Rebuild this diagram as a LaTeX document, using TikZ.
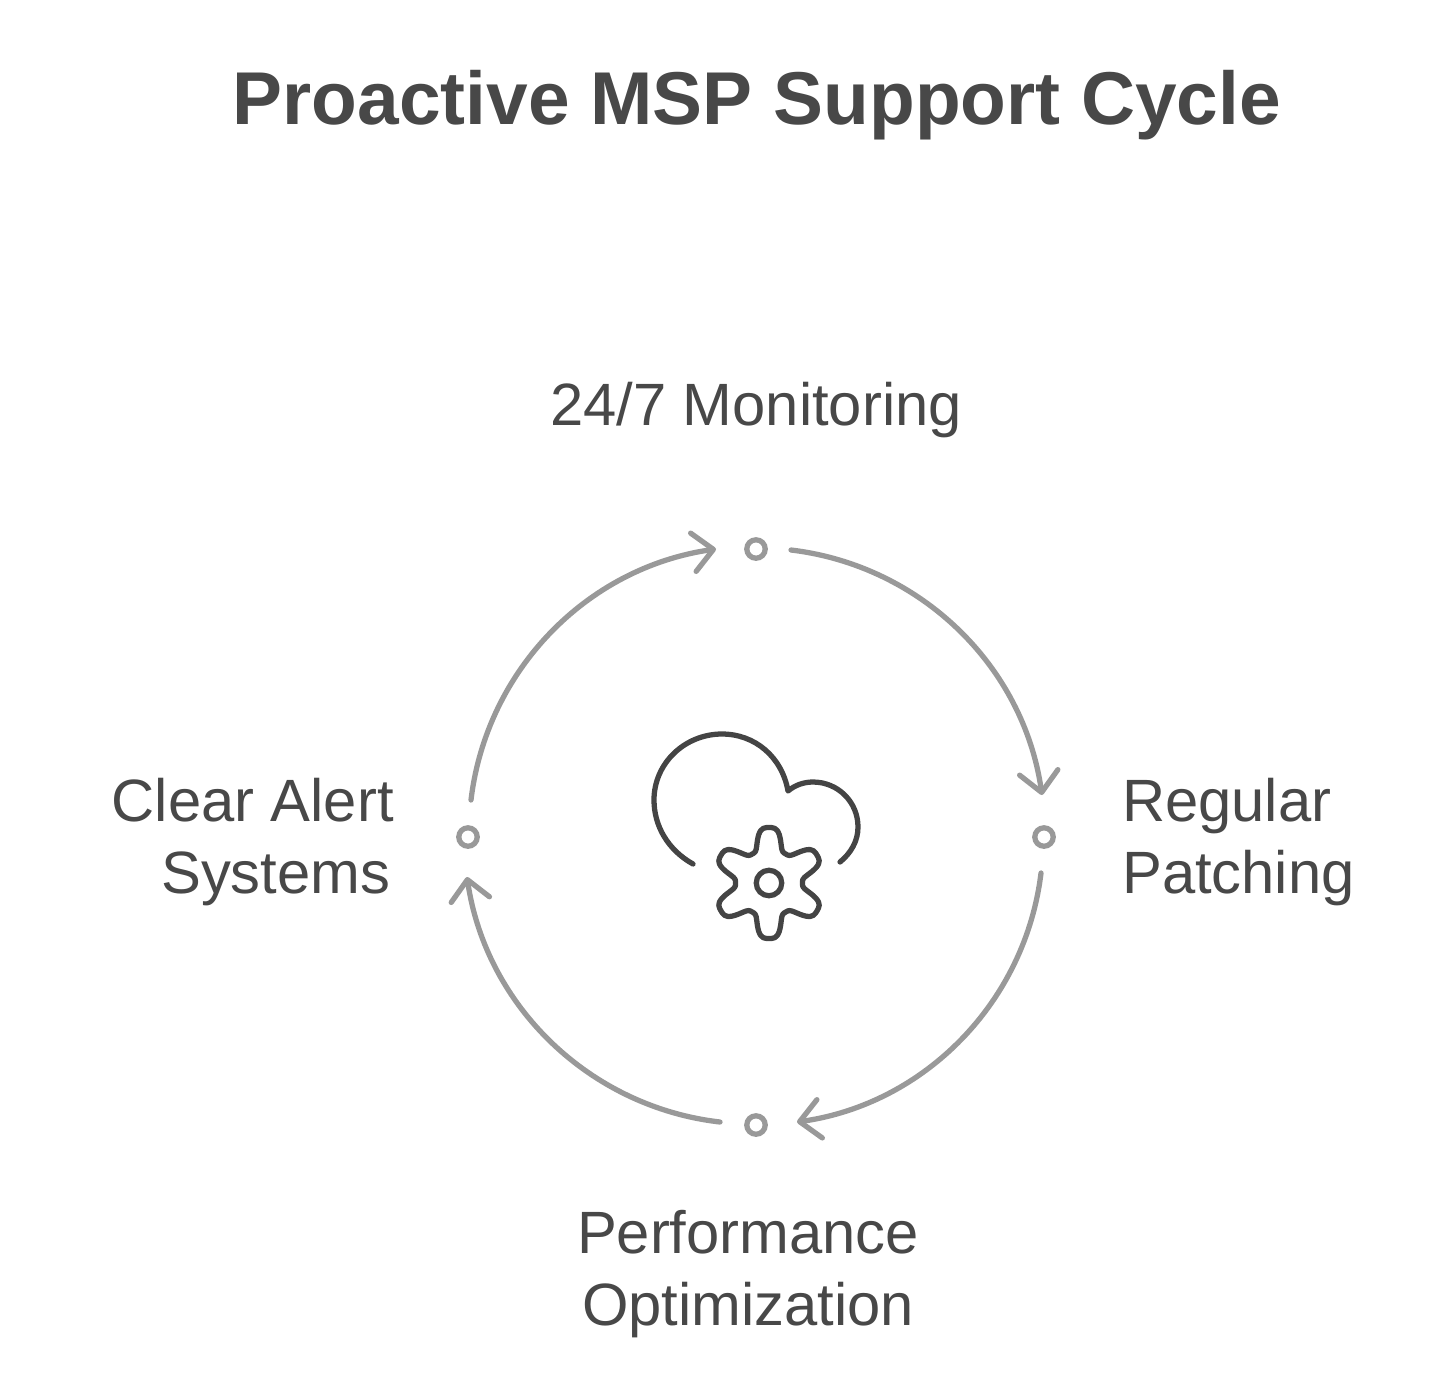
\documentclass[tikz,border=0pt]{standalone}
\usepackage{fontspec}
\setmainfont{Liberation Sans}
\usetikzlibrary{arrows.meta}
\definecolor{textgray}{HTML}{484848}
\definecolor{icongray}{HTML}{444444}
\definecolor{cyclegray}{HTML}{999999}
\tikzset{
    dot/.style={circle, draw=cyclegray, fill=white, line width=3pt, minimum size=10.5pt, inner sep=0pt},
    cycle/.style={draw=cyclegray, line width=3pt, line cap=round, -{Straight Barb[round, length=11.5pt, width=22pt]}},
    icon/.style={draw=icongray, line width=3pt, line cap=round, line join=round},
    label/.style={text=textgray, font=\fontsize{34}{41}\selectfont}
}
\begin{document}
\begin{tikzpicture}[x=0.02cm, y=-0.02cm,
    declare function={lobe(\t)=0.5-0.5*cos(6*\t); gearr(\t)=33.5+22*lobe(\t)*lobe(\t)*(3-2*lobe(\t));}]
    \useasboundingbox (0,0) rectangle (1440,1384);

    \node[text=textgray, font=\fontsize{42.6}{50}\selectfont\bfseries] (title) at (757,105) {Proactive MSP Support Cycle};

    \node[label] (monitoring) at (756,410) {24/7 Monitoring};
    \node[label, align=right, anchor=east] (alert) at (400,842) {Clear Alert\\Systems\kern2pt};
    \node[label, align=left, anchor=west] (patching) at (1116,842) {Regular\\Patching};
    \node[label, align=center] (performance) at (748,1274) {Performance\\Optimization};

    \node[dot] (top) at (756,549) {};
    \node[dot] (right) at (1044,837) {};
    \node[dot] (bottom) at (756,1125) {};
    \node[dot] (left) at (468,837) {};

    % ends of the four arcs
    \coordinate (topout) at (791,550);
    \coordinate (rightin) at (1042,795);
    \coordinate (rightout) at (1041,873);
    \coordinate (bottomin) at (797,1122);
    \coordinate (bottomout) at (720,1122);
    \coordinate (leftin) at (467,877);
    \coordinate (leftout) at (471,800);
    \coordinate (topin) at (716,549);

    \draw[cycle] (topout) to[bend left=37.5, looseness=0.95] (rightin);
    \draw[cycle] (rightout) to[bend left=37.5, looseness=0.95] (bottomin);
    \draw[cycle] (bottomout) to[bend left=37.5, looseness=0.95] (leftin);
    \draw[cycle] (leftout) to[bend left=37.5, looseness=0.95] (topin);

    % cloud
    \draw[icon] (693,864) .. controls (668,850) and (654,826) .. (654,800)
        .. controls (654,763) and (685,734) .. (722,734)
        .. controls (755,734) and (782,757) .. (788,791)
        .. controls (795,785) and (804,782) .. (813,782)
        .. controls (838,782) and (858,802) .. (858,827)
        .. controls (858,841) and (851,853) .. (840,862);

    % gear
    \draw[icon] plot[domain=0:360, samples=121, smooth] ({769+gearr(\x)*cos(\x)}, {883+gearr(\x)*sin(\x)}) -- cycle;
    \node[circle, draw=icongray, line width=3pt, minimum size=14.5pt, inner sep=0pt] (hub) at (769,883) {};
\end{tikzpicture}
\end{document}
